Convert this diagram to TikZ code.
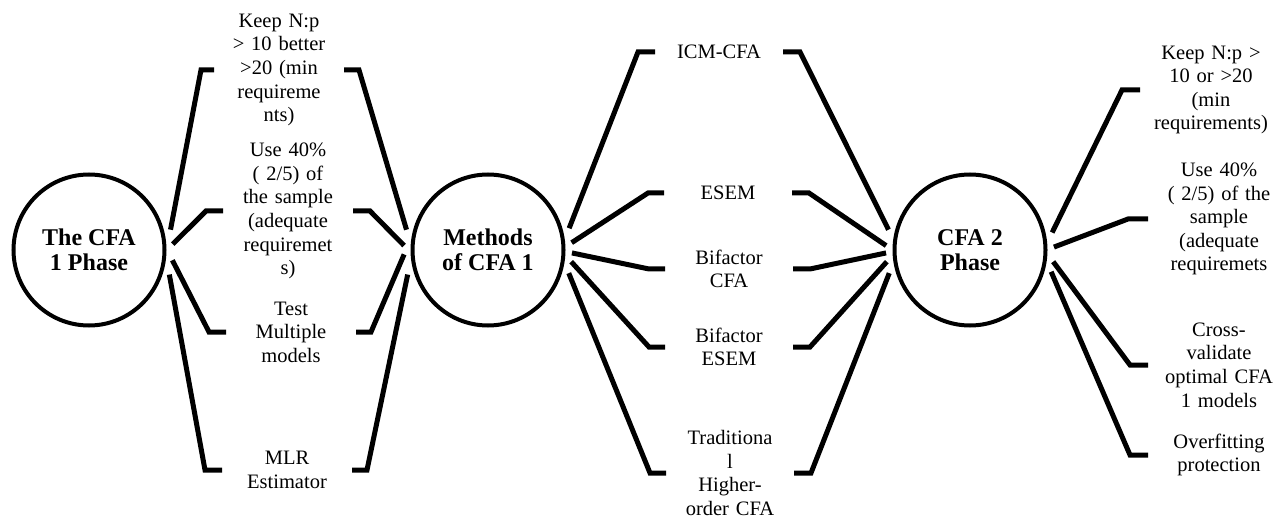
\documentclass[tikz,border=0pt]{standalone}
\usepackage{fontspec}
\setmainfont{Liberation Serif}
\tikzset{phase/.style={
        circle, draw, line width=4pt, minimum size=151pt,
        inner sep=0pt, outer sep=8.5pt, align=center,
        font=\fontsize{24}{25}\selectfont\bfseries
    },
    note/.style={
        inner sep=0pt, outer sep=0pt, text width=#1, align=center,
        font=\fontsize{20.5}{23.6}\selectfont
    },
    note/.default=130pt,
    arm/.style={line width=5pt}
}

\begin{document}
\begin{tikzpicture}[x=1pt, y=-1pt]
    \useasboundingbox (0,0) rectangle (1285,521);
    % Phases
    \node[phase] (cfa1) at (89,250) {The CFA\\1 Phase};
    \node[phase] (meth) at (488,250) {Methods\\of CFA 1};
    \node[phase] (cfa2) at (970,250) {CFA 2\\Phase};
    % First phase notes
    \node[note] (np1) at (279,70) {Keep N:p\\> 10 better\\>20 (min\\requireme\\nts)};
    \node[note] (use1) at (288,211) {Use 40\%\\( 2/5) of\\the sample\\(adequate\\requiremet\\s)};
    \node[note] (test) at (291,332) {Test\\Multiple\\models};
    \node[note] (mlr) at (287,470) {MLR\\Estimator};
    % Methods
    \node[note=128pt] (icm) at (719,52) {ICM-CFA};
    \node[note=128pt] (esem) at (728,193) {ESEM};
    \node[note=128pt] (bcfa) at (729,269) {Bifactor\\CFA};
    \node[note=128pt] (besem) at (729,347) {Bifactor\\ESEM};
    \node[note=128pt] (trad) at (730,473) {Traditiona\\l\\Higher-\\order CFA};
    % Second phase notes
    \node[note=142pt, anchor=west] (np2) at (1140,90) {Keep N:p >\\10 or >20\\(min\\requirements)};
    \node[note=142pt, anchor=west] (use2) at (1148,219) {Use 40\%\\( 2/5) of the\\sample\\(adequate\\requiremets};
    \node[note=142pt, anchor=west] (cross) at (1148,365) {Cross-\\validate\\optimal CFA\\1 models};
    \node[note=142pt, anchor=west] (over) at (1148,455) {Overfitting\\protection};
    % Arms, left
    \draw[arm] (cfa1.14) -- ([xshift=-13pt]np1.west) -- (np1.west);
    \draw[arm] (cfa1.4) -- ([xshift=-17pt]use1.west) -- (use1.west);
    \draw[arm] (cfa1.-7) -- ([xshift=-17pt]test.west) -- (test.west);
    \draw[arm] (cfa1.-17) -- ([xshift=-17pt]mlr.west) -- (mlr.west);
    \draw[arm] (np1.east) -- ([xshift=15pt]np1.east) -- (meth.166);
    \draw[arm] (use1.east) -- ([xshift=17pt]use1.east) -- (meth.177);
    \draw[arm] (test.east) -- ([xshift=15pt]test.east) -- (meth.183);
    \draw[arm] (mlr.east) -- ([xshift=15pt]mlr.east) -- (meth.197);
    % Arms, middle
    \draw[arm] (meth.15) -- ([xshift=-17pt]icm.west) -- (icm.west);
    \draw[arm] (meth.5) -- ([xshift=-16pt]esem.west) -- (esem.west);
    \draw[arm] (meth.-2) -- ([xshift=-16pt]bcfa.west) -- (bcfa.west);
    \draw[arm] (meth.-8) -- ([xshift=-16pt]besem.west) -- (besem.west);
    \draw[arm] (meth.-16) -- ([xshift=-16pt]trad.west) -- (trad.west);
    \draw[arm] (icm.east) -- ([xshift=17pt]icm.east) -- (cfa2.166);
    \draw[arm] (esem.east) -- ([xshift=17pt]esem.east) -- (cfa2.177);
    \draw[arm] (bcfa.east) -- ([xshift=17pt]bcfa.east) -- (cfa2.182);
    \draw[arm] (besem.east) -- ([xshift=17pt]besem.east) -- (cfa2.188);
    \draw[arm] (trad.east) -- ([xshift=17pt]trad.east) -- (cfa2.196);
    % Arms, right
    \draw[arm] (cfa2.12) -- ([xshift=-18pt]np2.west) -- (np2.west);
    \draw[arm] (cfa2.2) -- ([xshift=-20pt]use2.west) -- (use2.west);
    \draw[arm] (cfa2.-8) -- ([xshift=-18pt]cross.west) -- (cross.west);
    \draw[arm] (cfa2.-15) -- ([xshift=-18pt]over.west) -- (over.west);
\end{tikzpicture}
\end{document}
